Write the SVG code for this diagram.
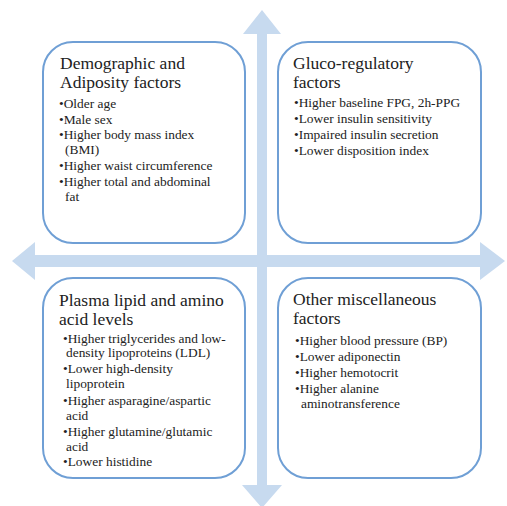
<svg xmlns="http://www.w3.org/2000/svg" width="507" height="506" viewBox="0 0 507 506">
<style>
.box{fill:#ffffff;stroke:#6f9fd5;stroke-width:2}
.axis{fill:#c7daef}
.t{font-family:"Liberation Serif","Times New Roman",serif;font-size:17.5px;fill:#222}
.b{font-family:"Liberation Serif","Times New Roman",serif;font-size:13.4px;fill:#222}
</style>
<rect width="507" height="506" fill="#ffffff"/>
<g id="connectors">
<polygon class="axis" points="262,10 281,34 267,34 267,485 282,485 262,508 242,485 257,485 257,34 243,34"/>
<polygon class="axis" points="12,261 35,242 35,255 480,255 480,242 505,261 480,280 480,267 35,267 35,280"/>
</g>
<g id="demographic">
<rect class="box" x="43" y="42" width="202" height="201" rx="30"/>
<text class="t" x="60" y="69">Demographic and</text>
<text class="t" x="60" y="88">Adiposity factors</text>
<text class="b"><tspan x="59" y="108">•Older age</tspan><tspan x="59" y="124">•Male sex</tspan><tspan x="59" y="139">•Higher body mass index</tspan><tspan x="65" y="154">(BMI)</tspan><tspan x="59" y="170">•Higher waist circumference</tspan><tspan x="59" y="186">•Higher total and abdominal</tspan><tspan x="65" y="201">fat</tspan></text>
</g>
<g id="glucoregulatory">
<rect class="box" x="278" y="42" width="203" height="201" rx="30"/>
<text class="t" x="293" y="69">Gluco-regulatory</text>
<text class="t" x="293" y="88">factors</text>
<text class="b"><tspan x="294" y="107">•Higher baseline FPG, 2h-PPG</tspan><tspan x="294" y="123">•Lower insulin sensitivity</tspan><tspan x="294" y="139">•Impaired insulin secretion</tspan><tspan x="294" y="155">•Lower disposition index</tspan></text>
</g>
<g id="plasma">
<rect class="box" x="43" y="278" width="202" height="200" rx="30"/>
<text class="t" x="59" y="306">Plasma lipid and amino</text>
<text class="t" x="59" y="325">acid levels</text>
<text class="b"><tspan x="63" y="343">•Higher triglycerides and low-</tspan><tspan x="66" y="357">density lipoproteins (LDL)</tspan><tspan x="63" y="373">•Lower high-density</tspan><tspan x="66" y="388">lipoprotein</tspan><tspan x="63" y="405">•Higher asparagine/aspartic</tspan><tspan x="66" y="420">acid</tspan><tspan x="63" y="436">•Higher glutamine/glutamic</tspan><tspan x="66" y="451">acid</tspan><tspan x="63" y="466">•Lower histidine</tspan></text>
</g>
<g id="miscellaneous">
<rect class="box" x="278" y="278" width="203" height="200" rx="30"/>
<text class="t" x="293" y="305">Other miscellaneous</text>
<text class="t" x="293" y="324">factors</text>
<text class="b"><tspan x="295" y="345">•Higher blood pressure (BP)</tspan><tspan x="295" y="361">•Lower adiponectin</tspan><tspan x="295" y="377">•Higher hemotocrit</tspan><tspan x="295" y="393">•Higher alanine</tspan><tspan x="301" y="408">aminotransference</tspan></text>
</g>
</svg>
